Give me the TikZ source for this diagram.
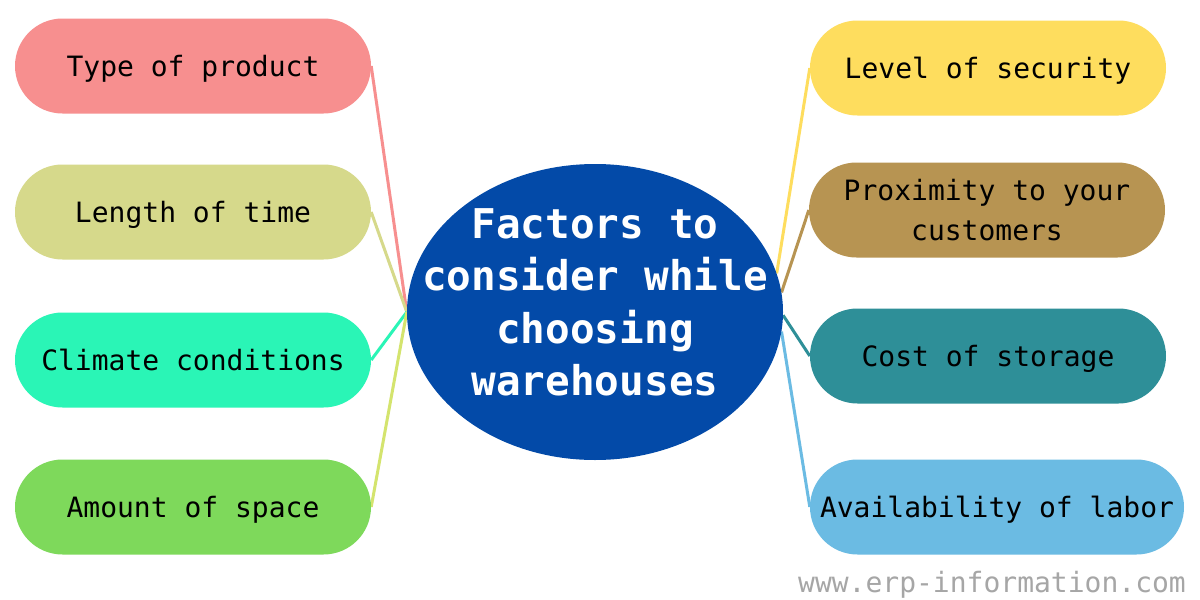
\documentclass[tikz,border=0pt]{standalone}
\usepackage{fontspec}
\newfontfamily\monofont{DejaVu Sans Mono}
\usetikzlibrary{shapes.geometric,backgrounds}
\definecolor{cprod}{HTML}{F78F8F}
\definecolor{ctime}{HTML}{D6D98B}
\definecolor{cclim}{HTML}{2AF5B6}
\definecolor{cspc}{HTML}{7ED95B}
\definecolor{csec}{HTML}{FEDD5E}
\definecolor{cprox}{HTML}{B79452}
\definecolor{ccost}{HTML}{2E8F98}
\definecolor{clab}{HTML}{6BBBE3}
\definecolor{cspcl}{HTML}{D4E46E}
\definecolor{hubblue}{HTML}{034AA8}
\tikzset{
  pillb/.style={rectangle,rounded corners=47.5pt,minimum width=356pt,minimum height=95pt,
    inner sep=0pt,font=\monofont\fontsize{28}{40}\selectfont,text=black,align=center},
  pill/.style={pillb,text height=21pt,text depth=0pt},
  hubc/.style={ellipse,fill=hubblue,minimum width=376pt,minimum height=296pt,
    inner xsep=-60pt,inner ysep=-30pt,text=white,align=center,
    font=\monofont\bfseries\fontsize{41}{52.5}\selectfont},
  lnk/.style={line width=3pt},
  wm/.style={font=\monofont\fontsize{28}{34}\selectfont,text=black!35},
}
\begin{document}
\begin{tikzpicture}[x=1pt,y=-1pt]
\useasboundingbox (0,0) rectangle (1200,600);
% the hub in the middle, the factors on either side of it
\node[hubc] (hub) at (595,312)
  {Factors to\\ consider while\\ choosing\\ warehouses\rule[-20pt]{0pt}{0pt}};
\foreach \n/\y/\c/\t in {prod/66/cprod/Type of product, time/212/ctime/Length of time,
    clim/360/cclim/Climate conditions, spc/507/cspc/Amount of space}
  \node[pill,fill=\c] (\n) at (193,\y) {\t};
\node[pill,fill=csec] (sec) at (988,68) {Level of security};
\node[pillb,fill=cprox] (prox) at (987,210) {Proximity to your\\ customers};
\node[pill,fill=ccost] (cost) at (988,356) {Cost of storage};
\node[pill,fill=clab,minimum width=374pt] (lab) at (997,507) {Availability of labor};
\node[wm] (url) at (992,585) {www.erp-information.com};
% links run under the hub
\begin{scope}[on background layer]
\fill[white] (0,0) rectangle (1200,600);
\foreach \n/\c in {prod/cprod, time/ctime, clim/cclim, spc/cspcl}
  \draw[lnk,draw=\c] (\n.east) -- (hub.west);
\foreach \n/\a/\c in {sec/12/csec, prox/6/cprox, cost/-1/ccost, lab/-6/clab}
  \draw[lnk,draw=\c] (\n.west) -- (hub.\a);
\end{scope}
\end{tikzpicture}
\end{document}
